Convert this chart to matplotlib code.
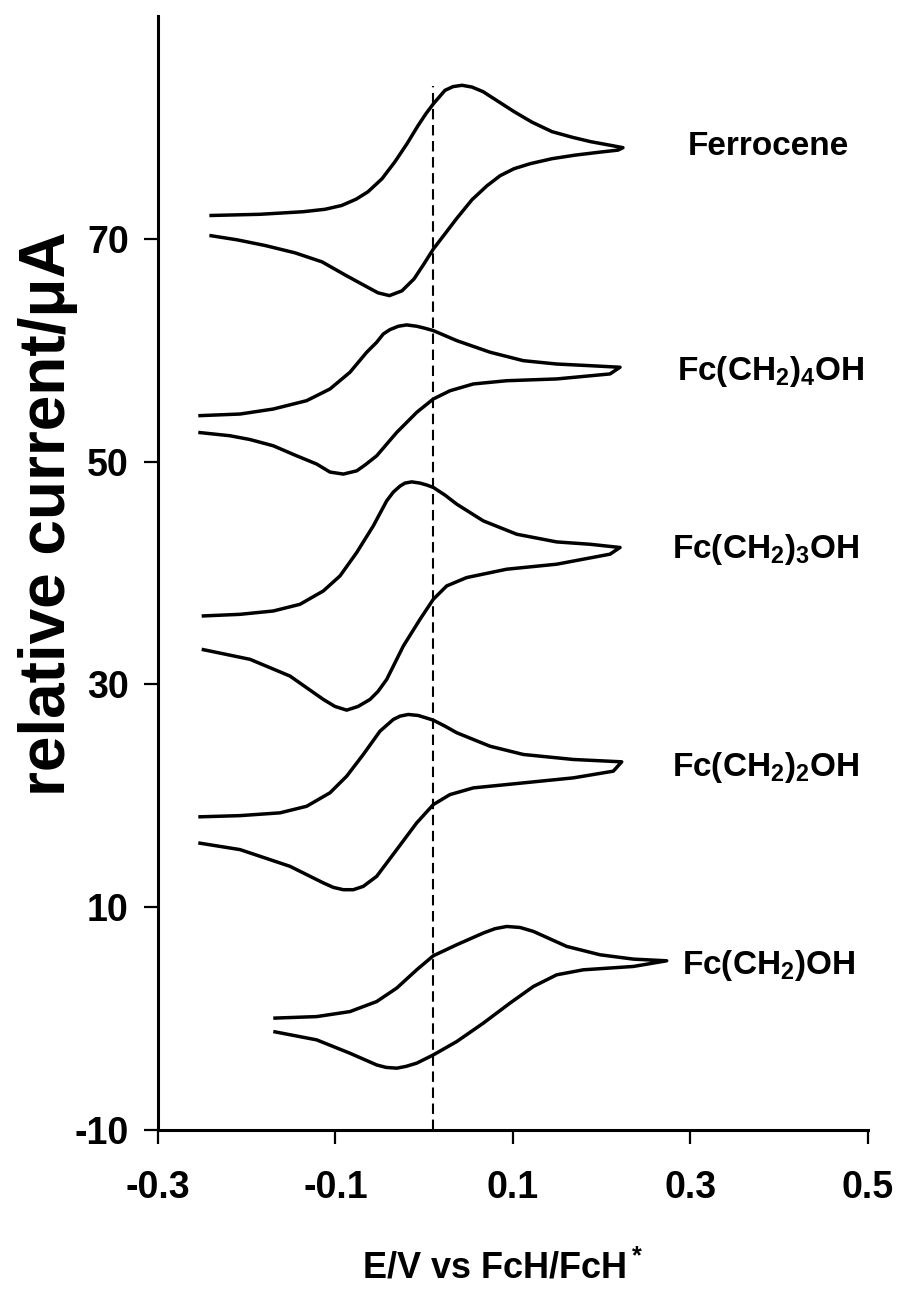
import matplotlib
matplotlib.use("Agg")
import matplotlib.pyplot as plt

plt.rcParams['font.family'] = ['Liberation Sans', 'DejaVu Sans']
plt.rcParams['font.weight'] = 'bold'
plt.rcParams['axes.unicode_minus'] = False
plt.rcParams['mathtext.fontset'] = 'custom'
plt.rcParams['mathtext.rm'] = 'Liberation Sans:bold'
plt.rcParams['mathtext.bf'] = 'Liberation Sans:bold'
plt.rcParams['mathtext.it'] = 'Liberation Sans:bold'
plt.rcParams['mathtext.default'] = 'bf'

# ---------------- data (E in V vs FcH/FcH+, current in uA, offset as plotted) ----------------
ferrocene_E = [-0.2421, -0.1851, -0.1366, -0.1118, -0.0931, -0.0769, -0.0634, -0.0476, -0.0330,
               -0.0194, -0.0070, 0.0020, 0.0104, 0.0234, 0.0324, 0.0425, 0.0538, 0.0662, 0.0820,
               0.1011, 0.1214, 0.1439, 0.1665, 0.1874, 0.2093, 0.2239,
               0.2183, 0.1980, 0.1699, 0.1439, 0.1192, 0.1011, 0.0854, 0.0707, 0.0538, 0.0363,
               0.0234, 0.0104, -0.0003, -0.0115, -0.0251, -0.0392, -0.0521, -0.0672, -0.0893,
               -0.1152, -0.1456, -0.1794, -0.2110, -0.2421]
ferrocene_I = [72.09, 72.20, 72.43, 72.65, 72.99, 73.55, 74.22, 75.39, 76.92,
               78.54, 80.16, 81.24, 82.13, 83.33, 83.66, 83.78, 83.62, 83.21, 82.40,
               81.42, 80.47, 79.62, 79.12, 78.72, 78.40, 78.18,
               77.96, 77.78, 77.51, 77.19, 76.74, 76.29, 75.66, 74.76, 73.51, 71.80,
               70.45, 69.10, 67.75, 66.40, 65.33, 64.90, 65.15, 65.80, 66.76,
               67.93, 68.74, 69.40, 69.91, 70.30]

fc4_E = [-0.2546, -0.2076, -0.1701, -0.1325, -0.1062, -0.0837, -0.0648, -0.0536, -0.0461,
         -0.0386, -0.0292, -0.0198, -0.0085, 0.0008, 0.0102, 0.0366, 0.0741, 0.1116, 0.1492,
         0.1868, 0.2206,
         0.2093, 0.1492, 0.0929, 0.0553, 0.0290, 0.0102, -0.0085, -0.0310, -0.0536, -0.0668,
         -0.0761, -0.0912, -0.1062, -0.1212, -0.1456, -0.1701, -0.1963, -0.2189, -0.2546]
fc4_I = [54.12, 54.27, 54.72, 55.47, 56.52, 58.02, 59.82, 60.71, 61.46,
         61.85, 62.15, 62.27, 62.15, 61.97, 61.76, 60.86, 59.82, 59.06, 58.76,
         58.61, 58.47,
         57.87, 57.42, 57.26, 56.97, 56.36, 55.62, 54.42, 52.62, 50.52, 49.69,
         49.17, 48.88, 49.06, 49.78, 50.58, 51.42, 51.98, 52.32, 52.62]

fc3_E = [-0.2508, -0.2076, -0.1701, -0.1400, -0.1137, -0.0949, -0.0761, -0.0574, -0.0423,
         -0.0349, -0.0273, -0.0217, -0.0141, -0.0048, 0.0031, 0.0102, 0.0234, 0.0366, 0.0665,
         0.1042, 0.1492, 0.1868, 0.2206,
         0.2093, 0.1492, 0.0929, 0.0478, 0.0253, 0.0102, -0.0048, -0.0236, -0.0423, -0.0521,
         -0.0611, -0.0746, -0.0874, -0.1006, -0.1137, -0.1513, -0.1963, -0.2508]
fc3_I = [36.14, 36.29, 36.59, 37.19, 38.39, 39.74, 41.84, 44.23, 46.48,
         47.26, 47.80, 48.07, 48.18, 48.07, 47.89, 47.68, 46.99, 46.18, 44.68,
         43.48, 42.79, 42.58, 42.29,
         41.69, 40.79, 40.34, 39.59, 38.84, 37.64, 35.84, 33.44, 30.45, 29.37,
         28.65, 28.02, 27.69, 28.02, 28.65, 30.75, 32.25, 33.15]

fc2_E = [-0.2546, -0.2076, -0.1625, -0.1325, -0.1062, -0.0874, -0.0687, -0.0499, -0.0349,
         -0.0273, -0.0180, -0.0067, 0.0102, 0.0234, 0.0366, 0.0741, 0.1116, 0.1680, 0.2225,
         0.2130, 0.1680, 0.0929, 0.0553, 0.0290, 0.0102, -0.0085, -0.0310, -0.0536, -0.0687,
         -0.0799, -0.0912, -0.1025, -0.1137, -0.1513, -0.2076, -0.2546]
fc2_I = [18.11, 18.22, 18.47, 19.06, 20.27, 21.76, 23.71, 25.80, 26.85,
         27.15, 27.30, 27.21, 26.79, 26.25, 25.66, 24.45, 23.71, 23.26, 23.05,
         22.21, 21.61, 21.01, 20.71, 20.11, 19.21, 17.57, 15.17, 12.77, 11.87,
         11.57, 11.57, 11.78, 12.18, 13.67, 15.17, 15.77]

fc1_E = [-0.1701, -0.1212, -0.0837, -0.0536, -0.0310, -0.0085, 0.0102, 0.0366, 0.0665,
         0.0797, 0.0929, 0.1079, 0.1229, 0.1605, 0.1980, 0.2356, 0.2732,
         0.2356, 0.1792, 0.1492, 0.1229, 0.0966, 0.0665, 0.0366, 0.0102, -0.0085, -0.0206,
         -0.0310, -0.0431, -0.0536, -0.0837, -0.1212, -0.1701]
fc1_I = [0.04, 0.18, 0.63, 1.53, 2.74, 4.38, 5.64, 6.63, 7.68,
         8.07, 8.27, 8.18, 7.83, 6.48, 5.73, 5.34, 5.19,
         4.68, 4.38, 3.93, 2.88, 1.39, -0.41, -2.06, -3.26, -4.00, -4.29,
         -4.45, -4.38, -4.16, -3.11, -1.91, -1.16]

labels = ['Ferrocene', 'Fc(CH$_2$)$_4$OH', 'Fc(CH$_2$)$_3$OH', 'Fc(CH$_2$)$_2$OH', 'Fc(CH$_2$)OH']
label_E = [0.297, 0.285, 0.279, 0.279, 0.290]
label_I = [78.3, 58.1, 42.1, 22.5, 4.8]

dashed_E = 0.010
x_ticks = [-0.3, -0.1, 0.1, 0.3, 0.5]
x_ticklabels = ['-0.3', '-0.1', '0.1', '0.3', '0.5']
y_ticks = [-10, 10, 30, 50, 70]
y_ticklabels = ['-10', '10', '30', '50', '70']

# ---------------- figure ----------------
fig = plt.figure(figsize=(9.03, 12.91), dpi=100)
ax = fig.add_axes([158/903, 1 - 1130/1291, (868-158)/903, (1130-16)/1291])

curves = [(ferrocene_E, ferrocene_I), (fc4_E, fc4_I), (fc3_E, fc3_I),
          (fc2_E, fc2_I), (fc1_E, fc1_I)]
for E, I in curves:
    ax.plot(E, I, color='black', lw=2.5, solid_joinstyle='round', solid_capstyle='butt')

ax.plot([dashed_E, dashed_E], [-10, 83.7], color='black', lw=1.5, linestyle=(0, (5, 2.7)))

for txt, e, i in zip(labels, label_E, label_I):
    ax.text(e, i, txt, ha='left', va='center', fontsize=24, fontweight='bold')

ax.set_xlim(-0.3, 0.5)
ax.set_ylim(-10, 90)
ax.set_xticks(x_ticks)
ax.set_xticklabels(x_ticklabels)
ax.set_yticks(y_ticks)
ax.set_yticklabels(y_ticklabels)
for s in ['top', 'right']:
    ax.spines[s].set_visible(False)
for s in ['left', 'bottom']:
    ax.spines[s].set_linewidth(2.2)
ax.tick_params(axis='both', direction='out', length=10, width=1.6, labelsize=27)
ax.tick_params(axis='x', pad=19)
ax.tick_params(axis='y', pad=11)
for lab in ax.get_xticklabels() + ax.get_yticklabels():
    lab.set_fontweight('bold')

fig.text(503/903, 1 - 1268/1291, 'E/V vs FcH/FcH$^*$', ha='center', va='center',
         fontsize=26, fontweight='bold')
fig.text(48/903, 1 - 514/1291, 'relative current/μA', ha='center', va='center',
         rotation=90, fontsize=46, fontweight='bold')

fig.savefig('out.png', dpi=100)
